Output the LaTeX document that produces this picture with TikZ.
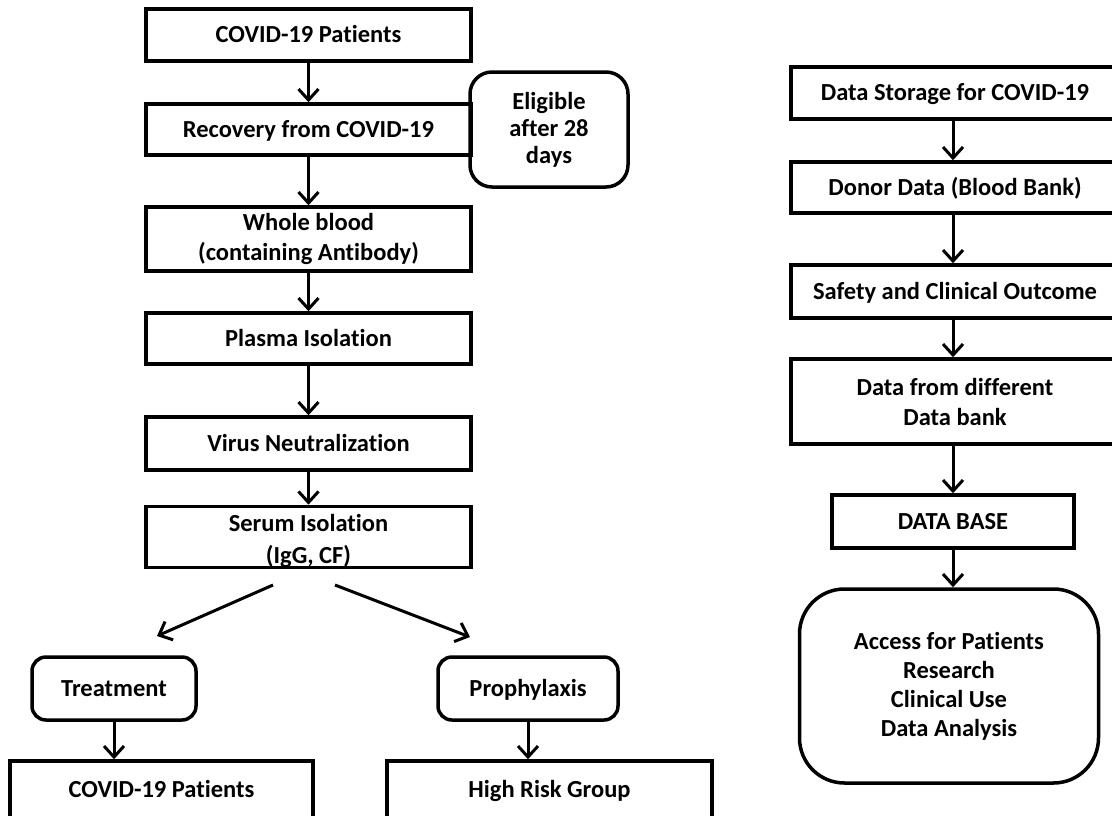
\documentclass[tikz,border=0pt]{standalone}
\usepackage{fontspec}
\setmainfont{Carlito}[Ligatures=NoCommon]
\usetikzlibrary{arrows.meta}

\begin{document}
\begin{tikzpicture}[
        x=1pt,
        y=-1pt,
        box/.style={
            draw,
            line width=3.5pt,
            minimum width=325,
            minimum height=52,
            inner sep=0pt,
            align=center,
            font=\fontsize{24.5}{30}\selectfont\bfseries,
        },
        box-round/.style={
            box,
            rounded corners=14pt,
        },
        one-line/.style={
            text height=15.8pt,
            text depth=0pt,
        },
        link-arrow/.style={
            line width=3pt,
            -{Straight Barb[length=11pt, width=20pt]},
        },
    ]
    \useasboundingbox (0,0) rectangle (1112,815);

    % Left column.
    \node[box, one-line] (patients) at (308.5,35) {COVID-19 Patients};
    \node[box, one-line, minimum height=51] (recovery) at (308.5,129.5) {Recovery from COVID-19};
    \node[box-round, minimum width=158, minimum height=115, rounded corners=22pt,
        font=\fontsize{24.5}{27}\selectfont\bfseries]
        (eligible) at (549,129.5) {Eligible\\after 28\\days};
    \node[box, minimum height=64] (blood) at (308.5,239) {Whole blood\\(containing Antibody)};
    \node[box, one-line, minimum height=51] (plasma) at (308.5,338.5) {Plasma Isolation};
    \node[box, one-line, minimum height=53] (virus) at (308.5,443.5) {Virus Neutralization};
    \node[box, minimum height=54, font=\fontsize{24.5}{32}\selectfont\bfseries]
        (serum) at (308.5,537) {\rule{0pt}{25pt}Serum Isolation\\(IgG, CF)};

    \foreach \a/\b in {patients/recovery, recovery/blood, blood/plasma, plasma/virus, virus/serum}
    \draw[link-arrow] (\a) -- (\b);

    % Split into the two uses.
    \coordinate (split-l) at (273,585);
    \coordinate (split-r) at (335,585);
    \coordinate (split-l-end) at (157,636);
    \coordinate (split-r-end) at (470,637);
    \draw[link-arrow] (split-l) -- (split-l-end);
    \draw[link-arrow] (split-r) -- (split-r-end);

    \node[box-round, one-line, minimum width=164, minimum height=63] (treatment) at (114,688.5) {Treatment};
    \node[box-round, one-line, minimum width=180, minimum height=63] (prophylaxis) at (528,688.5) {Prophylaxis};
    \node[box, one-line, minimum width=303, minimum height=58] (patients-2) at (161.5,790) {COVID-19 Patients};
    \node[box, one-line, minimum height=58] (risk) at (549.5,790) {High Risk Group};

    \draw[link-arrow] (treatment) -- (treatment |- patients-2.north);
    \draw[link-arrow] (prophylaxis) -- (prophylaxis |- risk.north);

    % Right column.
    \node[box, one-line, minimum width=328] (storage) at (955,93) {Data Storage for COVID-19};
    \node[box, one-line, minimum width=328, minimum height=51] (donor) at (955,187.5) {Donor Data (Blood Bank)};
    \node[box, one-line, minimum width=328, minimum height=53] (safety) at (955,291.5) {Safety and Clinical Outcome};
    \node[box, minimum width=328, minimum height=85] (different) at (955,401.5) {Data from different\\Data bank};
    \node[box, one-line, minimum width=242, minimum height=53] (database) at (953,521.5) {DATA BASE};
    \node[box-round, minimum width=299, minimum height=194, rounded corners=45pt,
        font=\fontsize{24.5}{29}\selectfont\bfseries]
        (access) at (949,686) {Access for Patients\\Research\\Clinical Use\\Data Analysis};

    \foreach \a/\b in {storage/donor, donor/safety, safety/different, different/database}
    \draw[link-arrow] (\a.south -| database) -- (\b.north -| database);
    \draw[link-arrow] (database) -- (database |- access.north);
\end{tikzpicture}
\end{document}
